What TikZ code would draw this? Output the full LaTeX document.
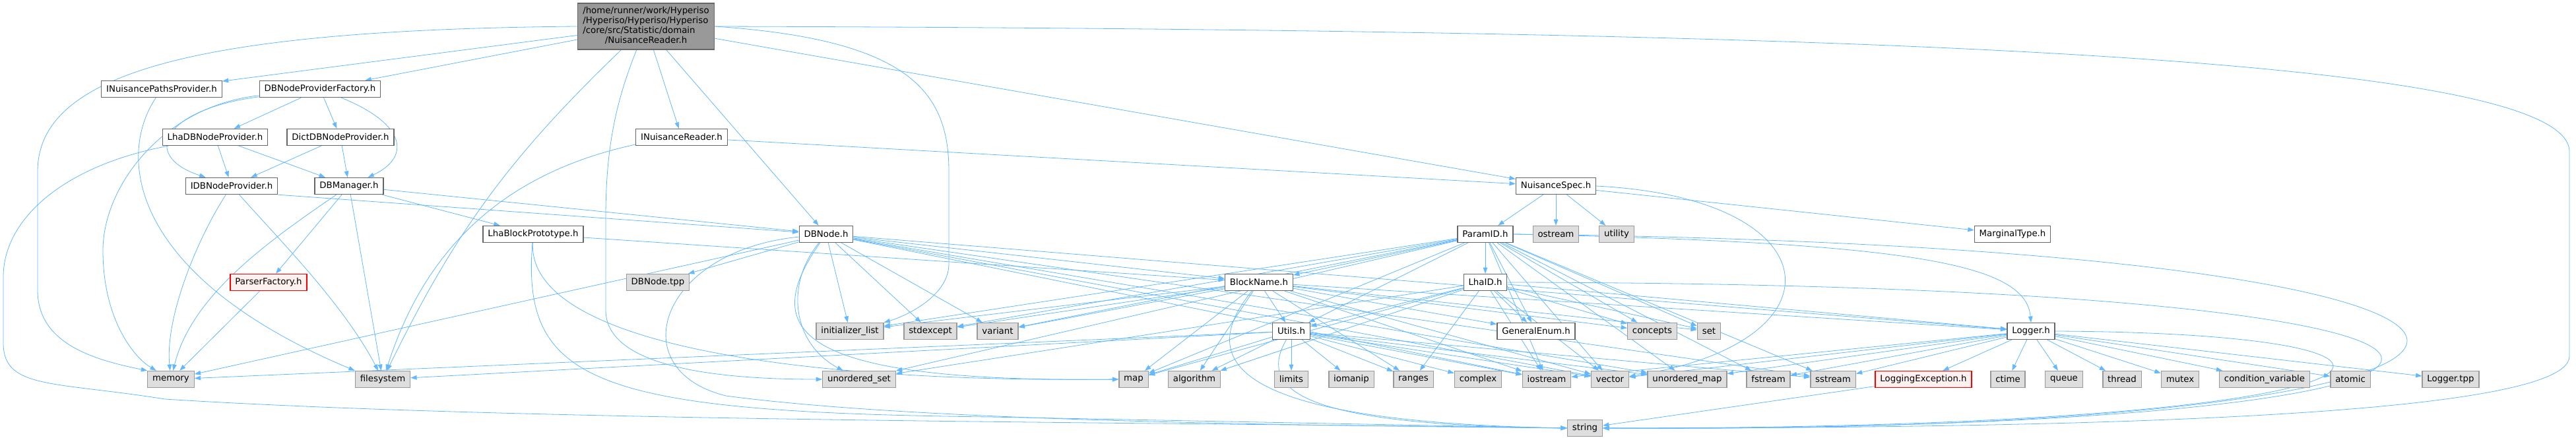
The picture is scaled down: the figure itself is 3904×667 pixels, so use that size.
\documentclass[tikz,border=0pt]{standalone}
\usepackage{fontspec}
\setmainfont{DejaVu Sans}
\usetikzlibrary{arrows.meta,backgrounds}
\definecolor{edgeblue}{HTML}{63B8FF}
\definecolor{grey40}{HTML}{666666}
\definecolor{grey60}{HTML}{999999}
\definecolor{grey87}{HTML}{DEDEDE}
\definecolor{truncfill}{HTML}{FFF0F0}
\tikzset{
  filebox/.style={draw, line width=1pt, minimum height=18.75pt, inner xsep=5.5pt, inner ysep=0pt,
    font=\fontsize{10}{11.25}\selectfont},
  hdr/.style={filebox, draw=grey40, fill=white},
  sys/.style={filebox, draw=grey60, fill=grey87},
  trunc/.style={filebox, draw=red, fill=truncfill},
  root/.style={filebox, draw=grey40, fill=grey60, minimum height=52.5pt, inner xsep=6pt},
  dep/.style={draw=edgeblue, line width=0.6pt, -{Triangle[length=7pt,width=5pt]}},
}

\begin{document}
\begin{tikzpicture}[x=0.75pt,y=-0.75pt]
  \useasboundingbox (0,0) rectangle (3904,667);

  \node[root] (main) at (979,40) {\begin{tabular}{@{}l@{}}/home/runner/work/Hyperiso\\/Hyperiso/Hyperiso/Hyperiso\\/core/src/Statistic/domain\\\multicolumn{1}{@{}c@{}}{/NuisanceReader.h}\end{tabular}};

  \node[hdr] (inpp) at (245,135) {INuisancePathsProvider.h};
  \node[hdr] (dbnpf) at (485,135) {DBNodeProviderFactory.h};
  \node[hdr] (lhadbnp) at (326,208) {LhaDBNodeProvider.h};
  \node[hdr] (dictdbnp) at (516,208) {DictDBNodeProvider.h};
  \node[hdr] (inr) at (1033,208) {INuisanceReader.h};
  \node[hdr] (idbnp) at (351,282) {IDBNodeProvider.h};
  \node[hdr] (dbman) at (529,282) {DBManager.h};
  \node[hdr] (nspec) at (2358,282) {NuisanceSpec.h};
  \node[hdr] (lhabp) at (808,355) {LhaBlockPrototype.h};
  \node[hdr] (dbnode) at (1252,355) {DBNode.h};
  \node[hdr] (paramid) at (2251,355) {ParamID.h};
  \node[sys] (ostream) at (2358,355) {ostream};
  \node[sys] (utility) at (2450,355) {utility};
  \node[hdr] (margtype) at (3050,355) {MarginalType.h};
  \node[trunc] (parserf) at (407,428) {ParserFactory.h};
  \node[sys] (dbtpp) at (997,428) {DBNode.tpp};
  \node[hdr] (blockname) at (1908,428) {BlockName.h};
  \node[hdr] (lhaid) at (2251,428) {LhaID.h};
  \node[sys] (initlist) at (1288,502) {initializer\_list};
  \node[sys] (stdexcept) at (1410,502) {stdexcept};
  \node[sys] (variant) at (1512,502) {variant};
  \node[hdr] (utils) at (1957,502) {Utils.h};
  \node[hdr] (genenum) at (2328,502) {GeneralEnum.h};
  \node[sys] (concepts) at (2504,502) {concepts};
  \node[sys] (set) at (2590,502) {set};
  \node[hdr] (logger) at (3078,502) {Logger.h};
  \node[sys] (memory) at (259,575) {memory};
  \node[sys] (filesystem) at (580,575) {filesystem};
  \node[sys] (unordset) at (1302,575) {unordered\_set};
  \node[sys] (map) at (1718,575) {map};
  \node[sys] (algorithm) at (1810,575) {algorithm};
  \node[sys] (limits) at (1957,575) {limits};
  \node[sys] (iomanip) at (2048,575) {iomanip};
  \node[sys] (ranges) at (2142,575) {ranges};
  \node[sys] (complex) at (2240,575) {complex};
  \node[sys] (iostream) at (2344,575) {iostream};
  \node[sys] (vector) at (2440,575) {vector};
  \node[sys] (unordmap) at (2557,575) {unordered\_map};
  \node[sys] (fstream) at (2680,575) {fstream};
  \node[sys] (sstream) at (2778,575) {sstream};
  \node[trunc] (logexc) at (2915,575) {LoggingException.h};
  \node[sys] (ctime) at (3043,575) {ctime};
  \node[sys] (queue) at (3128,575) {queue};
  \node[sys] (thread) at (3216,575) {thread};
  \node[sys] (mutex) at (3304,575) {mutex};
  \node[sys] (condvar) at (3432,575) {condition\_variable};
  \node[sys] (atomic) at (3562,575) {atomic};
  \node[sys] (loggertpp) at (3714,575) {Logger.tpp};
  \node[sys] (string) at (2402,649) {string};

  \begin{scope}[on background layer]
    \foreach \dst in {inpp,dbnpf,inr,dbnode,nspec}
      \draw[dep] (main) -- (\dst);
    \draw[dep] (main) to[bend right=10] (filesystem);
    \draw[dep] (main.west) .. controls (300,45) and (57,110) .. (57,260) -- (57,440)
      .. controls (57,520) and (140,545) .. (memory.north west);
    \draw[dep] (main.east) .. controls (2900,45) and (3894,90) .. (3894,230) -- (3894,540)
      .. controls (3894,640) and (3000,649) .. (string.east);
    \draw[dep] (main) .. controls (935,150) and (918,220) .. (918,330) -- (918,470)
      .. controls (918,560) and (1100,575) .. (unordset.west);
    \draw[dep] (main.east) .. controls (1380,60) and (1438,140) .. (1438,260) -- (1438,400)
      .. controls (1438,450) and (1370,480) .. (initlist.north east);

    \draw[dep] (inpp) .. controls (175,240) and (200,420) .. (filesystem.north west);

    \foreach \dst in {lhadbnp,dictdbnp}
      \draw[dep] (dbnpf) -- (\dst);
    \draw[dep] (dbnpf) .. controls (620,190) and (620,240) .. (dbman);
    \draw[dep] (dbnpf) .. controls (250,165) and (210,235) .. (idbnp);
    \draw[dep] (dbnpf) .. controls (250,160) and (156,280) .. (156,380)
      .. controls (156,480) and (200,540) .. (memory);

    \foreach \dst in {idbnp,dbman}
      \draw[dep] (lhadbnp) -- (\dst);
    \draw[dep] (lhadbnp) .. controls (100,250) and (5,330) .. (5,420) -- (5,520)
      .. controls (5,590) and (80,578) .. (250,605) .. controls (800,640) and (1800,640) .. (string.west);

    \foreach \dst in {idbnp,dbman}
      \draw[dep] (dictdbnp) -- (\dst);

    \draw[dep] (idbnp) .. controls (300,360) and (250,480) .. (memory);
    \draw[dep] (idbnp) .. controls (420,360) and (520,460) .. (filesystem);
    \draw[dep] (idbnp.south east) -- (dbnode);

    \foreach \dst in {dbnode,lhabp,parserf,filesystem}
      \draw[dep] (dbman) -- (\dst);
    \draw[dep] (dbman) .. controls (400,370) and (290,450) .. (memory);

    \draw[dep] (inr) to[bend right=30] (filesystem);
    \draw[dep] (inr) -- (nspec);

    \draw[dep] (parserf) -- (memory);

    \draw[dep] (lhabp) -- (blockname);
    \draw[dep] (lhabp) .. controls (800,520) and (1200,580) .. (map.west);
    \draw[dep] (lhabp) .. controls (790,580) and (900,625) .. (1500,632) -- (string.west);

    \foreach \dst in {dbtpp,initlist,stdexcept,variant,memory,blockname,logger,vector,unordmap,iostream,sstream}
      \draw[dep] (dbnode) -- (\dst);
    \draw[dep] (dbnode) .. controls (1190,430) and (1200,520) .. (unordset);
    \draw[dep] (dbnode) .. controls (1150,500) and (1200,580) .. (map.west);
    \draw[dep] (dbnode) .. controls (1000,380) and (940,560) .. (1100,600)
      .. controls (1400,640) and (2000,645) .. (string.west);

    \foreach \dst in {initlist,stdexcept,variant,map,algorithm,utils,genenum,concepts,set,ranges,iostream,vector,logger}
      \draw[dep] (blockname) -- (\dst);
    \draw[dep] (blockname) .. controls (1800,560) and (1900,640) .. (string.west);

    \foreach \dst in {genenum,utils,ranges,concepts,set,logger,map,algorithm,unordset,iostream,vector}
      \draw[dep] (lhaid) -- (\dst);
    \draw[dep] (lhaid.east) .. controls (4050,430) and (4000,655) .. (string.east);

    \foreach \dst in {lhaid,blockname,utils,genenum,concepts,set,initlist,stdexcept,variant,map,unordset,iostream,vector,unordmap,fstream,sstream}
      \draw[dep] (paramid) -- (\dst);
    \draw[dep] (paramid.east) .. controls (2900,368) and (3070,400) .. (logger.north);
    \draw[dep] (paramid.east) .. controls (4100,375) and (4050,660) .. (string.east);

    \foreach \dst in {limits,iomanip,ranges,complex,iostream,vector,algorithm,map,memory,filesystem,unordmap,sstream}
      \draw[dep] (utils) -- (\dst);
    \draw[dep] (utils) .. controls (1900,600) and (2000,645) .. (string.west);

    \foreach \dst in {logexc,ctime,queue,thread,mutex,condvar,atomic,loggertpp,sstream,fstream,unordmap,vector,iostream}
      \draw[dep] (logger) -- (\dst);
    \draw[dep] (logger.east) .. controls (3800,505) and (3700,650) .. (string.east);

    \draw[dep] (logexc) -- (string);

    \foreach \dst in {paramid,ostream,utility,margtype}
      \draw[dep] (nspec) -- (\dst);
    \draw[dep] (nspec.east) .. controls (2780,300) and (2800,520) .. (vector);
  \end{scope}
\end{tikzpicture}
\end{document}
